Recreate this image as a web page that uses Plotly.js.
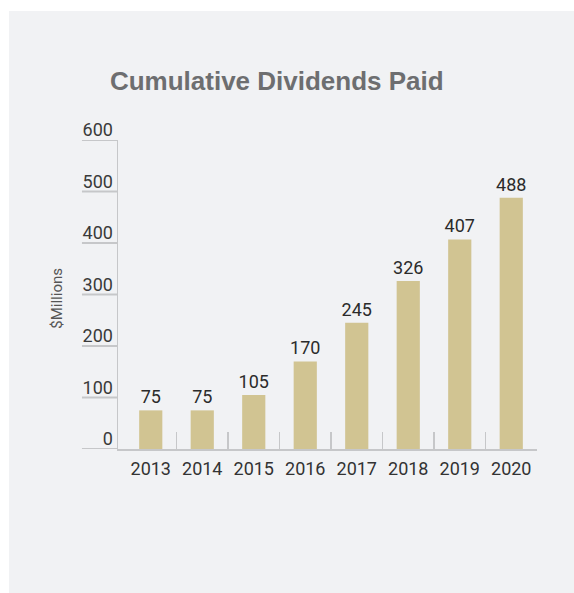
<!DOCTYPE html>
<html>
<head>
<meta charset="utf-8">
<script src="https://cdn.plot.ly/plotly-3.0.1.min.js"></script>
<style>
  html, body { margin: 0; padding: 0; background: #ffffff; width: 574px; height: 593px; overflow: hidden; }
  #chart { position: absolute; left: 9px; top: 11px; width: 565px; height: 582px; }
</style>
</head>
<body>
<div id="chart"></div>
<script>
const years = ["2013", "2014", "2015", "2016", "2017", "2018", "2019", "2020"];
const dividends = [75, 75, 105, 170, 245, 326, 407, 488];
const yTicks = [0, 100, 200, 300, 400, 500, 600];
const boundaryTicks = [0.5, 1.5, 2.5, 3.5, 4.5, 5.5, 6.5, 7.5];

const axisGray = "#c6c7c9";
const xRange = [-0.636, 7.5];

const shapes = yTicks.map(v => ({
  type: "line", xref: "paper", yref: "y",
  x0: -0.086, x1: 0, y0: v, y1: v,
  line: { color: axisGray, width: 2 }
}));

const data = [
  {
    type: "bar",
    x: years,
    y: dividends,
    width: 0.45,
    marker: { color: "#d1c492" },
    text: dividends.map(String),
    textposition: "outside",
    constraintext: "none",
    textfont: { family: "Roboto, sans-serif", size: 18, color: "#2b2b2b" },
    cliponaxis: false,
    hoverinfo: "skip"
  },
  {
    type: "scatter",
    x: [0.5],
    y: [0],
    xaxis: "x2",
    yaxis: "y",
    mode: "markers",
    marker: { opacity: 0 },
    hoverinfo: "skip",
    showlegend: false
  }
];

const layout = {
  width: 565,
  height: 582,
  paper_bgcolor: "#f1f2f4",
  plot_bgcolor: "rgba(0,0,0,0)",
  margin: { l: 109, r: 37, t: 129, b: 144 },
  showlegend: false,
  title: {
    text: "<b>Cumulative Dividends Paid</b>",
    font: { family: "Liberation Sans, Arial, sans-serif", size: 26, color: "#6d6e70" },
    x: 0.474, xanchor: "center",
    y: 0.88, yanchor: "middle", yref: "container"
  },
  xaxis: {
    type: "category",
    range: xRange,
    showline: true,
    linecolor: axisGray,
    linewidth: 2,
    ticks: "",
    showgrid: false,
    zeroline: false,
    tickfont: { family: "Roboto, sans-serif", size: 18, color: "#333333" },
    ticklabelstandoff: 2
  },
  xaxis2: {
    type: "linear",
    overlaying: "x",
    anchor: "y",
    side: "bottom",
    range: xRange,
    tickmode: "array",
    tickvals: boundaryTicks,
    showticklabels: false,
    ticks: "inside",
    ticklen: 17,
    tickwidth: 1.5,
    tickcolor: axisGray,
    showline: false,
    showgrid: false,
    zeroline: false
  },
  yaxis: {
    range: [0, 600],
    tickmode: "array",
    tickvals: yTicks,
    ticktext: yTicks.map(String),
    showline: true,
    linecolor: axisGray,
    linewidth: 1.5,
    ticks: "",
    showgrid: false,
    zeroline: false,
    tickfont: { family: "Roboto, sans-serif", size: 18, color: "#3a3a3a" },
    ticklabelshift: -10,
    ticklabelstandoff: 0
  },
  shapes: shapes,
  annotations: [
    {
      text: "$Millions",
      xref: "paper", yref: "paper",
      x: -0.146, y: 0.489,
      xanchor: "center", yanchor: "middle",
      textangle: -90,
      showarrow: false,
      font: { family: "Roboto, sans-serif", size: 15, color: "#555555" }
    }
  ]
};

Plotly.newPlot("chart", data, layout, { displayModeBar: false, staticPlot: true });
</script>
</body>
</html>
